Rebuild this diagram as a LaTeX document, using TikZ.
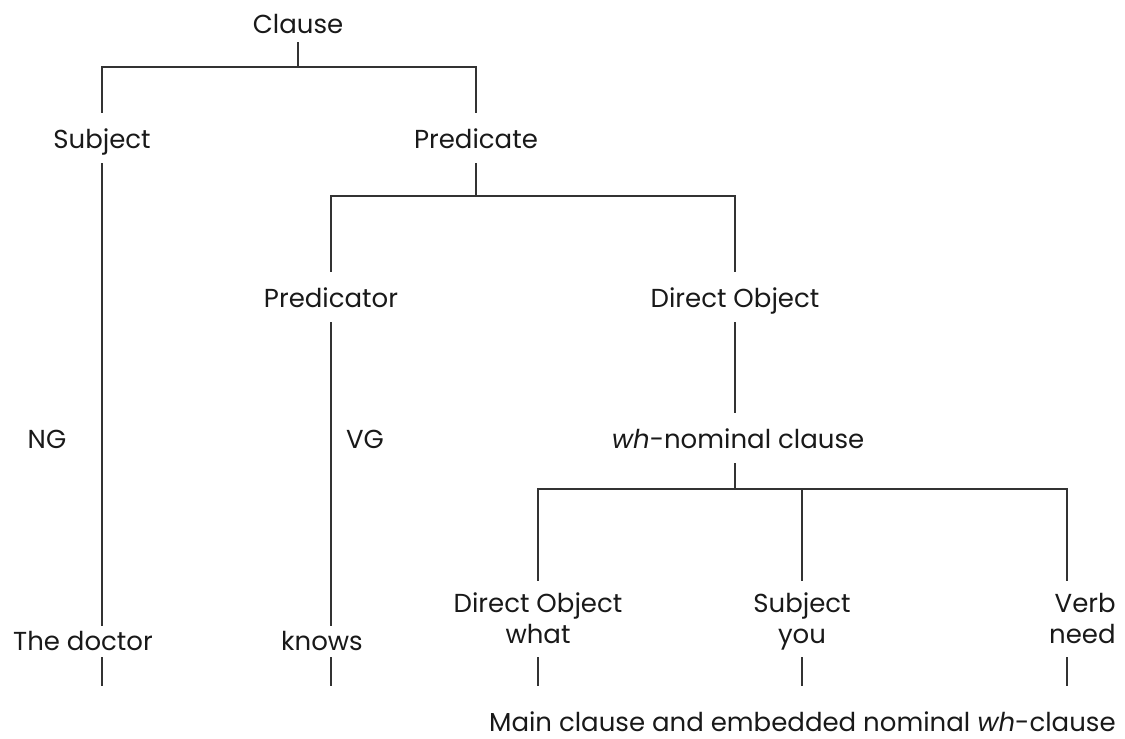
\documentclass[tikz,border=0pt]{standalone}
\usepackage{fontspec}
\setmainfont{Poppins}
\usepackage{tikz}

\begin{document}
\begin{tikzpicture}[x=0.02cm,y=-0.02cm,
   every node/.style={font=\fontsize{14.8}{17.6}\selectfont, text=black!90, anchor=base, inner xsep=0pt},
   cat/.style={inner ysep=8.5pt, text height=11.3pt, text depth=0pt},
   leaf/.style={inner ysep=2pt, text height=11.3pt, text depth=2pt},
   pair/.style={align=center, inner ysep=6.2pt, text height=28.9pt, text depth=1.7pt},
   branch/.style={draw=black!80, line width=0.8pt}]
   \useasboundingbox (0,0) rectangle (1125,738);
   % categories
   \node[cat, inner ysep=5pt] (clause) at (298,33) {Clause};
   \node[cat] (subj) at (102,148) {Subject};
   \node[cat] (pred) at (476,148) {Predicate};
   \node[cat] (ptor) at (331,307) {Predicator};
   \node[cat] (dobj) at (735,307) {Direct Object};
   \node (ng) at (47,448) {NG};
   \node (vg) at (365,448) {VG};
   \node[cat] (whcl) at (738,448) {\textit{wh}-nominal clause};
   % words
   \node[leaf] (doctor) at (83,650) {The doctor};
   \node[leaf] (knows) at (322,650) {knows};
   \node[pair] (wdo) at (538,643) {Direct Object\\what};
   \node[pair] (wsubj) at (802,643) {Subject\\you};
   \node[pair, align=right, anchor=base east] (wverb) at (1116,643) {Verb\\need};
   \node[anchor=base east, inner ysep=0pt, text depth=0pt] (caption) at (1116,731)
      {Main clause and embedded nominal \textit{wh}-clause};

   \coordinate (top) at (298,67);
   \coordinate (mid) at (476,196);
   \coordinate (low) at (735,489);
   \coordinate (vcol) at (1067,489);
   \coordinate (foot) at (0,686);

   \draw[branch] (clause.south) -- (top);
   \draw[branch] (subj.north) |- (top) -| (pred.north);
   \draw[branch] (pred.south) -- (mid);
   \draw[branch] (ptor.north) |- (mid) -| (dobj.north);
   \draw[branch] (dobj.south) -- (dobj.south |- whcl.north);
   \draw[branch] (low |- whcl.south) -- (low);
   \draw[branch] (wdo.north) |- (low) -| (vcol |- wverb.north);
   \draw[branch] (wsubj.north) -- (wsubj.north |- low);
   \draw[branch] (subj.south) -- (subj.south |- doctor.north);
   \draw[branch] (ptor.south) -- (ptor.south |- knows.north);
   %\draw[branch] (subj.south) -- (subj.south |- foot);
   \foreach \a/\b in {subj/doctor, ptor/knows}
      \draw[branch] (\a.south |- \b.south) -- (\a.south |- foot);
   \foreach \n in {wdo, wsubj}
      \draw[branch] (\n.south) -- (\n.south |- foot);
   \draw[branch] (vcol |- wverb.south) -- (vcol |- foot);
\end{tikzpicture}
\end{document}
